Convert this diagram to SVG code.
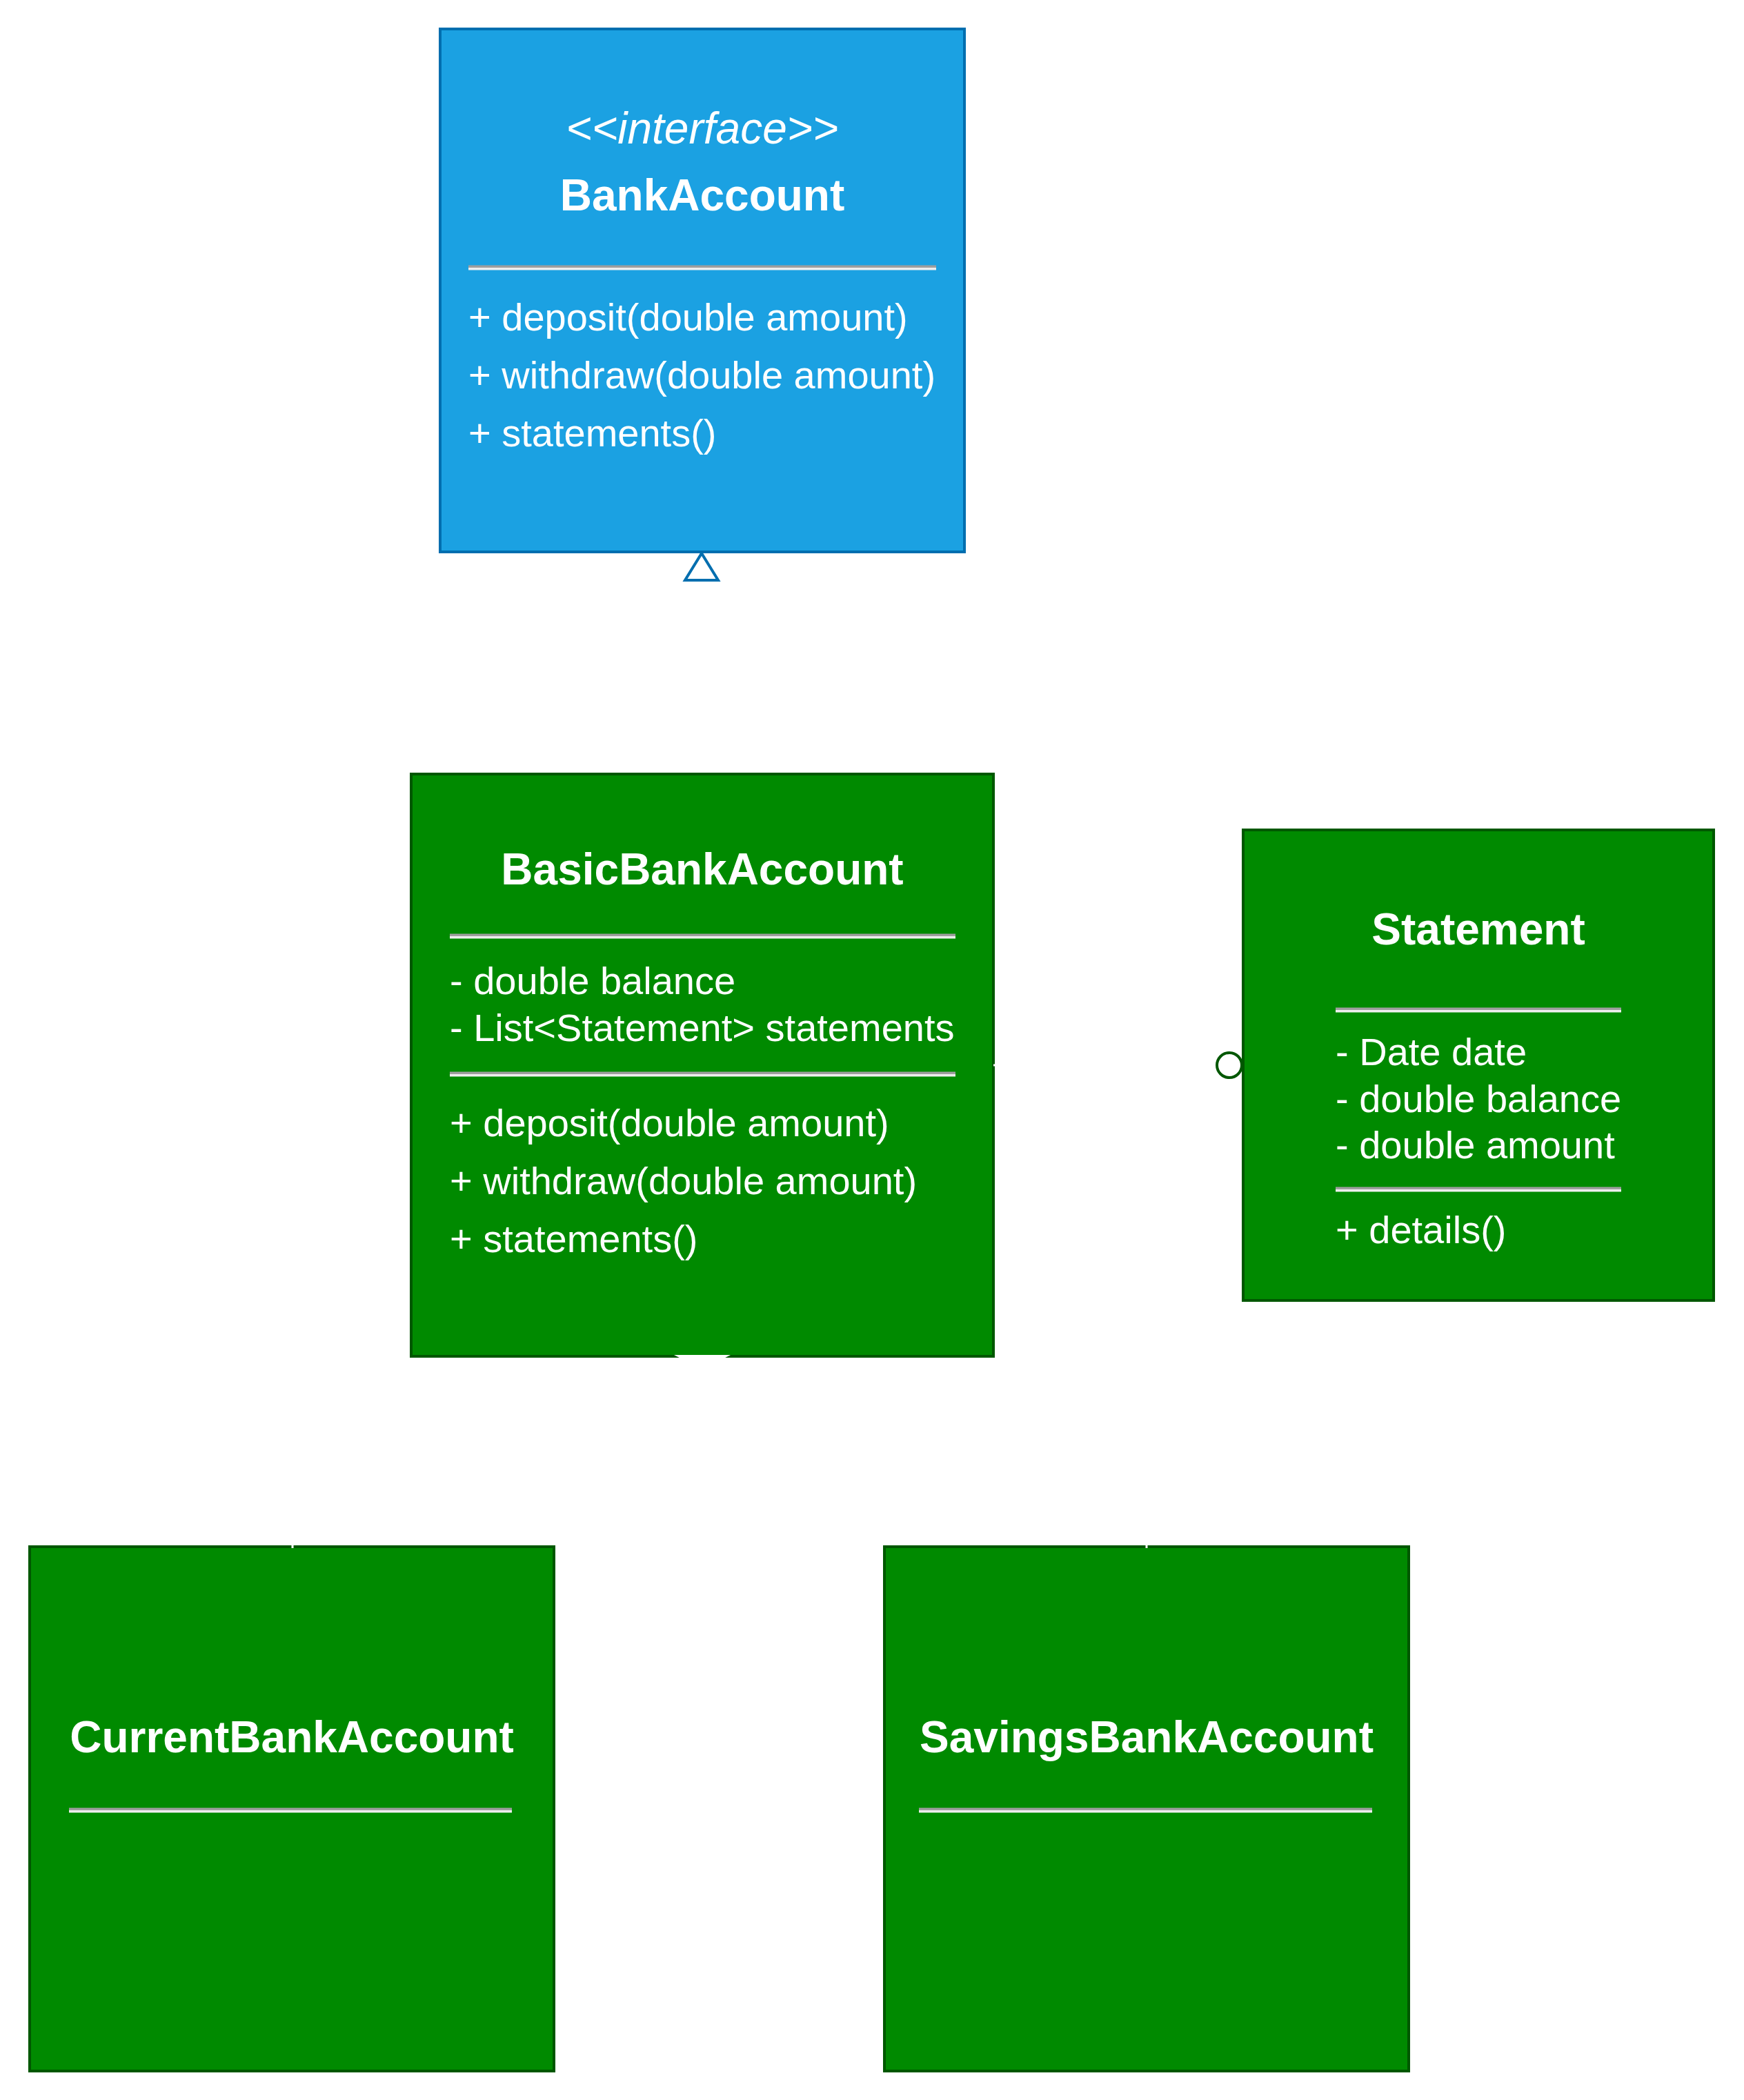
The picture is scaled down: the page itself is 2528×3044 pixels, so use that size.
<svg xmlns="http://www.w3.org/2000/svg" width="2528" height="3044" viewBox="0 0 2528 3044">
  <style>
    .blue { fill: #1BA1E2; stroke: #006EAF; stroke-width: 4; }
    .green { fill: #008A00; stroke: #005700; stroke-width: 4; }
    text { font-family: "Liberation Sans", Arial, Helvetica, sans-serif; fill: #FFFFFF; }
    .title { font-size: 64px; font-weight: bold; text-anchor: middle; }
    .stereo { font-size: 64px; font-style: italic; text-anchor: middle; }
    .mem { font-size: 56px; }
    .sepT { fill: #9E9E9E; }
    .sepB { fill: #EEEEEE; }
    .conn { fill: none; stroke: #FFFFFF; stroke-width: 3; }
  </style>

  <g id="node-BankAccount">
    <rect class="blue" x="638" y="42" width="760" height="758"/>
    <text class="stereo" x="1018" y="208">&lt;&lt;interface&gt;&gt;</text>
    <text class="title" x="1018" y="305">BankAccount</text>
    <rect class="sepT" x="679" y="384.5" width="678" height="3.5"/>
    <rect class="sepB" x="679" y="388" width="678" height="3.5"/>
    <text class="mem" x="679" y="479">+ deposit(double amount)</text>
    <text class="mem" x="679" y="563">+ withdraw(double amount)</text>
    <text class="mem" x="679" y="647">+ statements()</text>
  </g>

  <g id="node-BasicBankAccount">
    <rect class="green" x="596" y="1122" width="844" height="844"/>
    <text class="title" x="1018" y="1282">BasicBankAccount</text>
    <rect class="sepT" x="652" y="1353.5" width="733" height="3.5"/>
    <rect class="sepB" x="652" y="1357" width="733" height="3.5"/>
    <text class="mem" x="652" y="1441">- double balance</text>
    <text class="mem" x="652" y="1509">- List&lt;Statement&gt; statements</text>
    <rect class="sepT" x="652" y="1553.5" width="733" height="3.5"/>
    <rect class="sepB" x="652" y="1557" width="733" height="3.5"/>
    <text class="mem" x="652" y="1647">+ deposit(double amount)</text>
    <text class="mem" x="652" y="1731">+ withdraw(double amount)</text>
    <text class="mem" x="652" y="1815">+ statements()</text>
  </g>

  <g id="node-Statement">
    <rect class="green" x="1802" y="1203" width="682" height="682"/>
    <text class="title" x="2143" y="1369">Statement</text>
    <rect class="sepT" x="1936" y="1460.5" width="414" height="3.5"/>
    <rect class="sepB" x="1936" y="1464" width="414" height="3.5"/>
    <text class="mem" x="1936" y="1544">- Date date</text>
    <text class="mem" x="1936" y="1612">- double balance</text>
    <text class="mem" x="1936" y="1679">- double amount</text>
    <rect class="sepT" x="1936" y="1720.5" width="414" height="3.5"/>
    <rect class="sepB" x="1936" y="1724" width="414" height="3.5"/>
    <text class="mem" x="1936" y="1802">+ details()</text>
  </g>

  <g id="node-CurrentBankAccount">
    <rect class="green" x="43" y="2242" width="760" height="760"/>
    <text class="title" x="423" y="2540">CurrentBankAccount</text>
    <rect class="sepT" x="100" y="2620.5" width="642" height="3.5"/>
    <rect class="sepB" x="100" y="2624" width="642" height="3.5"/>
  </g>

  <g id="node-SavingsBankAccount">
    <rect class="green" x="1282" y="2242" width="760" height="760"/>
    <text class="title" x="1662" y="2540">SavingsBankAccount</text>
    <rect class="sepT" x="1332" y="2620.5" width="657" height="3.5"/>
    <rect class="sepB" x="1332" y="2624" width="657" height="3.5"/>
  </g>

  <g id="connectors">
    <!-- BasicBankAccount realizes BankAccount -->
    <path class="conn" d="M1017 1118 V843"/>
    <polygon points="1017,802 993,841 1041,841" fill="#FFFFFF" stroke="#006EAF" stroke-width="4" stroke-linejoin="miter"/>
    <!-- BasicBankAccount to Statement -->
    <path class="conn" d="M1440 1544 H1763"/>
    <circle cx="1782" cy="1544" r="18" fill="#FFFFFF" stroke="#005700" stroke-width="4"/>
    <!-- CurrentBankAccount / SavingsBankAccount extend BasicBankAccount -->
    <path class="conn" d="M424 2244 V2104 H1018 V1985"/>
    <path class="conn" d="M1662 2244 V2104 H1018 V1985"/>
    <polygon points="977,1964 1059,1964 1018,1985" fill="#FFFFFF"/>
  </g>
</svg>
